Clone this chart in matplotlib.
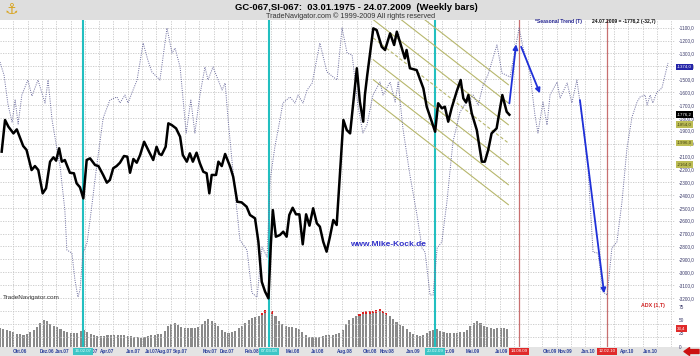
import numpy as np
import matplotlib
matplotlib.use('Agg')
import matplotlib.pyplot as plt
from matplotlib.patches import Rectangle
from matplotlib.transforms import blended_transform_factory

plt.rcParams['font.family'] = ['Liberation Sans', 'DejaVu Sans']

# ---- data (x = weekly bar number, y = price / ADX) ----
black_week = [0.5, 1.5, 2.5, 4.0, 5.0, 6.0, 6.9, 7.9, 9.4, 10.4, 11.4, 12.7, 13.7, 14.9, 15.9,
              16.7, 17.6, 18.4, 19.3, 20.8, 22.0, 22.8, 23.8, 24.8, 25.8, 26.8, 28.3, 29.3, 30.7,
              31.8, 32.7, 33.7, 34.7, 35.7, 36.9, 37.9, 38.7, 39.7, 40.7, 41.7, 42.9, 44.1, 45.6,
              46.6, 47.4, 48.1, 49.3, 50.1, 51.1, 52.4, 53.6, 54.4, 55.6, 56.5, 57.4, 58.5, 59.5,
              60.5, 61.5, 62.3, 63.0, 64.3, 65.0, 66.0, 67.0, 68.5, 69.4, 70.6, 71.9, 73.4, 74.4,
              75.9, 76.9, 77.9, 78.9, 79.9, 80.6, 81.2, 82.1, 83.3, 84.3, 85.3, 86.1, 87.1, 88.1,
              89.1, 90.1, 91.1, 92.1, 93.2, 94.3, 95.2, 96.2, 97.2, 98.2, 99.2, 100.2, 102.2, 103.2,
              104.2, 106.2, 107.1, 108.1, 108.6, 109.3, 111.1, 112.1, 113.6, 114.6, 116.1, 117.3,
              118.1, 119.6, 120.5, 121.0, 122.0, 124.0, 126.0, 127.0, 128.5, 129.5, 130.4, 131.5,
              132.4, 133.4, 134.4, 135.9, 137.1, 137.9, 138.7, 139.4, 140.4, 141.9, 143.4, 144.3,
              145.3, 146.3, 147.8, 149.5, 150.8, 151.6]
black_price = [-2063, -1817, -1869, -1921, -1890, -1959, -2019, -2050, -2206, -2175, -2206, -2387,
               -2348, -2141, -2107, -2133, -2037, -2141, -2128, -2227, -2231, -2309, -2340, -2426,
               -2128, -2115, -2167, -2175, -2244, -2304, -2283, -2192, -2175, -2149, -2097, -2102,
               -2227, -2120, -2149, -2089, -1986, -2050, -2128, -2025, -2081, -2089, -2025, -1843,
               -1856, -1882, -1947, -2089, -2141, -2076, -2141, -2071, -2154, -2219, -2231, -2387,
               -2244, -2244, -2141, -2175, -2081, -2180, -2258, -2452, -2457, -2491, -2555, -2581,
               -2763, -3074, -3151, -3203, -2788, -2517, -2724, -2711, -2685, -2724, -2555, -2499,
               -2550, -2550, -2783, -2550, -2638, -2503, -2620, -2646, -2763, -2840, -2724, -2594,
               -2633, -1817, -1895, -1921, -1415, -1675, -1830, -1623, -1468, -1105, -1118, -1248,
               -1273, -1144, -1234, -1131, -1260, -1338, -1273, -1415, -1429, -1571, -1714, -1830,
               -1908, -1687, -1726, -1714, -1830, -1726, -1597, -1506, -1649, -1680, -1623, -1765,
               -1895, -2141, -2141, -2050, -1921, -1882, -1623, -1753, -1776.2]

season_week = [0.0, 1.2, 2.4, 3.6, 4.5, 5.4, 6.5, 8.3, 9.5, 11.3, 13.4, 14.3, 15.5, 17.0, 17.9,
               19.3, 19.9, 21.4, 22.3, 23.2, 23.8, 24.7, 25.9, 26.8, 28.9, 30.7, 32.7, 34.8, 35.7,
               37.2, 38.1, 39.6, 40.8, 42.6, 44.0, 45.2, 47.6, 49.7, 51.2, 52.1, 53.6, 54.5, 55.4,
               56.8, 58.0, 59.5, 61.0, 61.9, 63.4, 66.1, 67.0, 67.9, 69.3, 71.4, 73.5, 75.0, 76.5,
               78.0, 79.5, 80.4, 81.8, 83.3, 84.2, 86.3, 87.8, 88.7, 90.2, 91.4, 92.9, 95.2, 97.3,
               100.3, 101.8, 103.3, 104.8, 106.5, 108.0, 109.2, 111.0, 113.1, 114.0, 116.1, 117.6,
               118.5, 119.9, 122.0, 124.1, 125.6, 126.5, 128.0, 128.9, 130.1, 131.5, 133.0, 134.8,
               136.9, 139.0, 140.8, 142.3, 143.8, 145.2, 147.9, 149.4, 151.8, 154.5, 155.7, 157.7,
               159.2, 160.1, 161.6, 162.8, 163.7, 165.8, 166.7, 168.8, 170.2, 171.7, 172.6, 174.1,
               175.0, 176.5, 178.0, 179.5, 180.7, 182.1, 183.6, 185.1, 186.6, 188.1, 189.6, 190.5,
               192.0, 192.6, 193.5, 194.3, 195.5, 197.0, 198.8]
season_price = [-1367, -1468, -1701, -1833, -1662, -1848, -1623, -1506, -1631, -1506, -1685, -1506,
                -1817, -2050, -2182, -2517, -2827, -2851, -3060, -3193, -3138, -2851, -2773, -2594,
                -2151, -1802, -1662, -1638, -1685, -1623, -1685, -1584, -1506, -1219, -1351, -1444,
                -1506, -1102, -1297, -1258, -1405, -1662, -1918, -1662, -1918, -1623, -1405, -1506,
                -1405, -1584, -1530, -1817, -2206, -2750, -2827, -3161, -3193, -2804, -2882, -2283,
                -2027, -1817, -1685, -1638, -1685, -1623, -1685, -1584, -1530, -1219, -1444, -1506,
                -1102, -1297, -1312, -1701, -1918, -1856, -1623, -1522, -1623, -1522, -1677, -1522,
                -1879, -2245, -2555, -2812, -2843, -3177, -3177, -2812, -2765, -2454, -1988, -1755,
                -1677, -1623, -1701, -1545, -1468, -1234, -1452, -1483, -1102, -1258, -1444, -1778,
                -1918, -1677, -1856, -1623, -1522, -1646, -1530, -1685, -1506, -1677, -1988, -2190,
                -2843, -2851, -3154, -3177, -2812, -2765, -2454, -2035, -1794, -1677, -1638, -1623,
                -1701, -1623, -1685, -1600, -1569, -1374]

adx = [34, 33, 32, 30, 27, 24, 23, 22, 23, 27, 31, 37, 44, 50, 48, 42, 38, 36, 33, 29,
       27, 26, 25, 26, 29, 31, 27, 23, 21, 19, 19, 20, 21, 22, 21, 22, 22, 21, 20, 19,
       18, 17, 16, 18, 20, 21, 22, 23, 24, 30, 38, 42, 44, 40, 37, 35, 34, 34, 35, 36,
       42, 48, 51, 49, 44, 38, 32, 27, 25, 27, 30, 34, 38, 45, 50, 53, 55, 58, 63, 68,
       72, 66, 58, 48, 42, 38, 37, 36, 35, 33, 28, 22, 18, 17, 17, 18, 19, 21, 22, 22,
       23, 26, 32, 42, 50, 54, 57, 62, 65, 66, 66, 67, 68, 70, 67, 63, 58, 52, 46, 41,
       38, 33, 28, 24, 21, 20, 22, 25, 29, 32, 33, 30, 27, 26, 26, 25, 26, 27, 28, 32,
       38, 44, 48, 44, 38, 36, 34, 33, 34, 35, 34, 33]
adx_last = 33.4

# trend channel (left / right end values of each parallel line)
chan_week = [111.1, 151.3]
chan_left = [-727, -869, -1038, -1180, -1349, -1504, -1659]
chan_right = [-1543, -1685, -1854, -1996, -2164, -2320, -2475]

# blue projection arrows: (week0, price0, week1, price1)
arrows = [(151.6, -1688, 153.6, -1229),
          (155.1, -1248, 160.7, -1610),
          (172.6, -1662, 179.8, -3164)]

cyan_week = [24.7, 80.1, 129.5]
cyan_date = ['16.02.07', '07.03.08', '20.02.09']
red_week = [154.5, 180.7]
red_date = ['14.08.09', '12.02.10']

month_labels = ['Okt.06', 'Dez.06', 'Jan.07', 'Mrz.07', 'Apr.07', 'Jun.07', 'Jul.07',
                'Aug.07', 'Sep.07', 'Nov.07', 'Dez.07', 'Feb.08', 'Mai.08', 'Jul.08',
                'Aug.08', 'Okt.08', 'Nov.08', 'Jan.09', 'Mrz.09', 'Mai.09', 'Jul.09',
                'Okt.09', 'Nov.09', 'Jan.10', 'Apr.10', 'Jun.10']
month_week = [6.0, 14.0, 18.5, 27.0, 31.9, 39.6, 45.2, 49.1, 53.6, 62.5, 67.6, 75.0,
              87.2, 94.6, 102.7, 110.1, 115.2, 122.9, 133.2, 140.8, 149.2,
              163.7, 168.2, 175.0, 186.6, 193.5]


def fmt(v):
    return ('%.1f' % v).replace('.', ',')


W, H = 700, 356
fig = plt.figure(figsize=(7, 3.56), dpi=100)
fig.patch.set_facecolor('white')
fig.patches.append(Rectangle((0, 1 - 20 / H), 1, 20 / H, transform=fig.transFigure,
                             facecolor='#dedede', edgecolor='none', zorder=0))
fig.patches.append(Rectangle((0, 0), 1, 9 / H, transform=fig.transFigure,
                             facecolor='#e4e4e4', edgecolor='none', zorder=0))

ax = fig.add_axes([0, 9 / H, 675 / W, 327 / H])
ax2 = ax.twinx()
ax.set_zorder(2)
ax2.set_zorder(1)
ax.patch.set_visible(False)

px_per_week = 3.36
ax.set_xlim(0, 675 / px_per_week)
ax.set_ylim(-3581, -1040)
ax2.set_ylim(-0.9, 615)
for a in (ax, ax2):
    for s in a.spines.values():
        s.set_visible(False)

# grid
for p in np.arange(-3500, -1000, 100):
    ax.axhline(p, color='#c6c6c6', lw=0.6, ls=(0, (1.5, 1.5)), zorder=0)
for w in np.arange(13.3, 675, 14.3) / px_per_week:
    ax.axvline(w, color='#c6c6c6', lw=0.6, ls=(0, (1.5, 1.5)), zorder=0)

# ADX bars
wk = np.arange(len(adx))
adx_arr = np.array(adx)
ax2.bar(wk, adx_arr, width=0.62, color='#8a8a8a', zorder=1)
hi = adx_arr >= 62
ax2.bar(wk[hi], 4, bottom=adx_arr[hi] - 4, width=0.62, color='#dd2020', zorder=2)

# vertical marker lines
for w in cyan_week:
    ax.axvline(w, color='#22bfc0', lw=1.5, zorder=1)
for w in red_week:
    ax.axvline(w, color='#c87070', lw=0.9, zorder=1)

# channel
for i, (a, b) in enumerate(zip(chan_left, chan_right)):
    ax.plot(chan_week, [a, b], color='#b7b76c', lw=0.8,
            ls=(0, (3, 2)) if i == 3 else '-', zorder=2)

ax.plot(season_week, season_price, color='#6a6a9c', lw=0.7, ls=(0, (1, 1.3)), zorder=3)
ax.plot(black_week, black_price, color='black', lw=1.8, zorder=4)

for w0, p0, w1, p1 in arrows:
    ax.annotate('', xy=(w1, p1), xytext=(w0, p0),
                arrowprops=dict(arrowstyle='-|>', color='#1f30d8', lw=1.3,
                                mutation_scale=7, shrinkA=0, shrinkB=0), zorder=5)

# axes ticks
ax.yaxis.tick_right()
yt = np.arange(-3200, -1000, 100)
ax.set_yticks(yt)
ax.set_yticklabels([fmt(v) for v in yt])
ax.tick_params(axis='y', length=0, pad=3, labelsize=3.4, labelcolor='#3a3a6a')
ax2.set_yticks([0, 25, 50, 75])
ax2.set_yticklabels(['0', '25', '50', '75'])
ax2.tick_params(axis='y', length=0, pad=3, labelsize=3.4, labelcolor='#3a3a6a')
ax.set_xticks(month_week)
ax.set_xticklabels(month_labels)
ax.tick_params(axis='x', length=0, pad=1.2, labelsize=3.3, labelcolor='#2a3f9a')
for t in ax.get_xticklabels():
    t.set_fontweight('bold')

# date boxes under the marker lines
bx = blended_transform_factory(ax.transData, ax.transAxes)
for w, d in zip(cyan_week, cyan_date):
    ax.text(w, -0.0135, d, transform=bx, ha='center', va='center', fontsize=3.2,
            color='#e8ffff', zorder=6,
            bbox=dict(boxstyle='square,pad=0.35', fc='#3cc6c6', ec='none'))
for w, d in zip(red_week, red_date):
    ax.text(w, -0.0135, d, transform=bx, ha='center', va='center', fontsize=3.2,
            color='white', zorder=6,
            bbox=dict(boxstyle='square,pad=0.35', fc='#e02a2a', ec='none'))

# value boxes on the right axis
by = blended_transform_factory(ax.transAxes, ax.transData)
ax.text(1.003, season_price[-1] - 30, fmt(season_price[-1]), transform=by, ha='left', va='center',
        fontsize=3.2, color='white', zorder=6,
        bbox=dict(boxstyle='square,pad=0.3', fc='#2424a8', ec='none'))
ax.text(1.003, black_price[-1], fmt(black_price[-1]), transform=by, ha='left', va='center',
        fontsize=3.2, color='white', zorder=6,
        bbox=dict(boxstyle='square,pad=0.3', fc='black', ec='none'))
for v in chan_right[2:5]:
    ax.text(1.003, v, fmt(v), transform=by, ha='left', va='center', fontsize=3.2,
            color='#404010', zorder=6,
            bbox=dict(boxstyle='square,pad=0.3', fc='#bdbd55', ec='none'))
by2 = blended_transform_factory(ax2.transAxes, ax2.transData)
ax2.text(1.003, adx_last, fmt(adx_last), transform=by2, ha='left', va='center', fontsize=3.2,
         color='white', zorder=6,
         bbox=dict(boxstyle='square,pad=0.3', fc='#e02a2a', ec='none'))

# texts
ax.text(535 / 675, 0.995, '*Seasonal Trend (T)', transform=ax.transAxes, ha='left', va='center',
        fontsize=3.6, fontweight='bold', color='#1c1c8c')
ax.text(592 / 675, 0.995, '24.07.2009 = %s (-32,7)' % fmt(black_price[-1]), transform=ax.transAxes,
        ha='left', va='center', fontsize=3.6, fontweight='bold', color='#111111')
ax.text(388 / 675, (347 - 245) / 327, 'www.Mike-Kock.de', transform=ax.transAxes, ha='center',
        va='center', fontsize=6, fontweight='bold', color='#3030c8')
ax.text(3 / 675, (347 - 298) / 327, 'TradeNavigator.com', transform=ax.transAxes, ha='left',
        va='center', fontsize=4.6, color='#333333')
ax.text(653 / 675, (347 - 306) / 327, 'ADX (1,T)', transform=ax.transAxes, ha='center',
        va='center', fontsize=3.8, fontweight='bold', color='#d02020')

fig.text(356.5 / W, 1 - 7 / H, 'GC-067,SI-067:  03.01.1975 - 24.07.2009  (Weekly bars)',
         ha='center', va='center', fontsize=6.8, fontweight='bold', color='black')
fig.text(351 / W, 1 - 16 / H, 'TradeNavigator.com \u00a9 1999-2009 All rights reserved',
         ha='center', va='center', fontsize=5.2, color='#333333')
fig.text(11 / W, 1 - 10 / H, '\u2693', ha='center', va='center', fontsize=11,
         color='#d8a420', family='DejaVu Sans')
ax.annotate('', xy=(684, 4.5), xytext=(699, 4.5), xycoords='figure pixels',
            textcoords='figure pixels',
            arrowprops=dict(arrowstyle='simple,head_length=0.5,head_width=0.7,tail_width=0.35',
                            color='#cc1111', mutation_scale=8, shrinkA=0, shrinkB=0))

fig.savefig('out.png', dpi=100, facecolor=fig.get_facecolor())
